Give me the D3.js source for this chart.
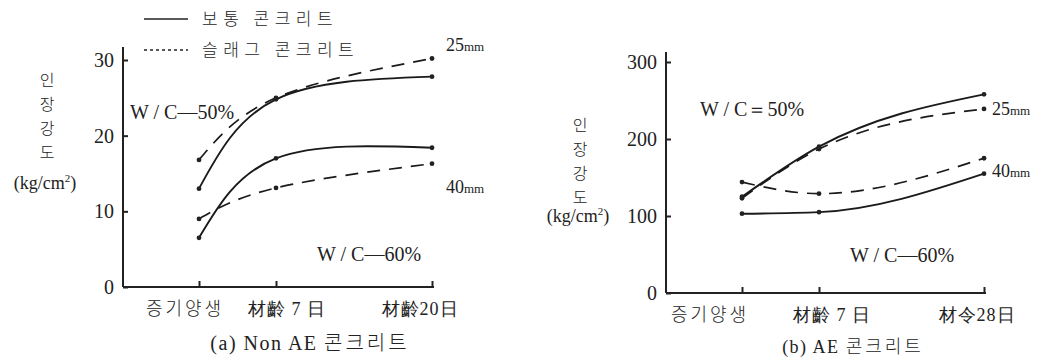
<!DOCTYPE html>
<html>
<head>
<meta charset="utf-8">
<script src="https://cdn.jsdelivr.net/npm/d3@7"></script>
<style>
  body { margin: 0; background: #fff; }
  svg { display: block; }
  .num { font-family: "Liberation Serif", "DejaVu Serif", serif; fill: #222; }
  .kor { font-family: "Noto Sans CJK KR", "Noto Sans", sans-serif; fill: #222; font-weight: 300; }
</style>
</head>
<body>
<div id="chart"></div>
<script>
// categories (curing age) and their day values
const catsA = ['증기양생', '材齡 7 日', '材齡20日'];
const catsB = ['증기양생', '材齡 7 日', '材令28日'];
const daysA = [0, 7, 20];
const daysB = [0, 7, 28];

// tick labels
const ticksA = [0, 10, 20, 30];
const ticksB = [0, 100, 200, 300];

// (a) Non AE concrete, kg/cm2
const a25Normal = [13.0, 24.8, 27.8];
const a25Slag   = [16.8, 25.0, 30.2];
const a40Normal = [6.5, 17.0, 18.4];
const a40Slag   = [9.0, 13.1, 16.3];

// (b) AE concrete, kg/cm2
const b25Normal = [125, 190, 258];
const b25Slag   = [123, 187, 239];
const b40Normal = [103, 105, 155];
const b40Slag   = [144, 129, 175];

const W = 1053, H = 362;
const svg = d3.select('#chart').append('svg')
  .attr('width', W)
  .attr('height', H);

// legend (top left)
const legend = [
  { label: '보통 콘크리트', dash: null, y: 19 },
  { label: '슬래그 콘크리트', dash: '3,3', y: 50 }
];
legend.forEach(l => {
  svg.append('line')
    .attr('x1', 144).attr('x2', 188)
    .attr('y1', l.y).attr('y2', l.y)
    .attr('stroke', '#222')
    .attr('stroke-width', 1.3)
    .attr('stroke-dasharray', l.dash);
  svg.append('text')
    .attr('class', 'kor')
    .attr('x', 202).attr('y', l.y + 6)
    .attr('font-size', 17)
    .attr('letter-spacing', 5.5)
    .text(l.label);
});

function drawPanel(opt) {
  const g = svg.append('g');
  const x = d3.scaleLinear()
    .domain([-7, 0, 7, opt.days[2], opt.days[2] + 1])
    .range([opt.left, opt.left + opt.gaps[0], opt.left + opt.gaps[0] + opt.gaps[1],
            opt.right - 2, opt.right]);
  const y = d3.scaleLinear()
    .domain([0, opt.ticks[opt.ticks.length - 1]])
    .range([opt.bottom, opt.top30]);

  // y axis
  const yAxis = d3.axisLeft(y).tickValues(opt.ticks).tickSizeInner(-5).tickSizeOuter(0).tickPadding(9);
  const ya = g.append('g')
    .attr('transform', `translate(${opt.left},0)`)
    .call(yAxis);
  ya.select('.domain').remove();
  ya.selectAll('.tick line').attr('stroke', '#222').attr('stroke-width', 2);
  ya.selectAll('.tick text')
    .attr('class', 'num')
    .attr('font-size', 20)
    .attr('font-family', null)
    .attr('fill', null);

  g.append('line')
    .attr('x1', opt.left).attr('x2', opt.left)
    .attr('y1', opt.axisTop).attr('y2', opt.bottom)
    .attr('stroke', '#222').attr('stroke-width', 2);

  // x axis
  const xAxis = d3.axisBottom(x).tickValues(opt.days).tickSizeInner(-6).tickSizeOuter(0).tickFormat('');
  const xa = g.append('g')
    .attr('transform', `translate(0,${opt.bottom})`)
    .call(xAxis);
  xa.select('.domain').remove();
  xa.selectAll('.tick line').attr('stroke', '#222').attr('stroke-width', 2);
  g.append('line')
    .attr('x1', opt.left).attr('x2', opt.right)
    .attr('y1', opt.bottom).attr('y2', opt.bottom)
    .attr('stroke', '#222').attr('stroke-width', 2);

  // category labels
  g.selectAll('.cat')
    .data(opt.cats)
    .enter().append('text')
    .attr('class', (d, i) => i === 0 ? 'kor' : 'num')
    .attr('x', (d, i) => x(opt.days[i]) + opt.catShift[i])
    .attr('y', opt.bottom + 28)
    .attr('text-anchor', 'middle')
    .attr('font-size', 18)
    .attr('letter-spacing', (d, i) => i === 0 ? 3 : 1)
    .text(d => d);

  // panel title
  g.append('text')
    .attr('class', 'num')
    .attr('x', opt.titleX).attr('y', opt.titleY)
    .attr('text-anchor', 'middle')
    .attr('font-size', opt.titleSize)
    .attr('letter-spacing', 1.5)
    .text(opt.title[0])
    .append('tspan').attr('class', 'kor').attr('letter-spacing', 3).text(opt.title[1]);

  // y axis label, vertical characters
  ['인', '장', '강', '도'].forEach((c, i) => {
    g.append('text')
      .attr('class', 'kor')
      .attr('x', opt.ylabX).attr('y', opt.ylabY + i * opt.ylabStep)
      .attr('text-anchor', 'middle')
      .attr('font-size', 16)
      .text(c);
  });
  const unit = g.append('text')
    .attr('class', 'num')
    .attr('x', opt.ylabX - 2).attr('y', opt.unitY)
    .attr('text-anchor', 'middle')
    .attr('font-size', 18)
    .text('(kg/cm');
  unit.append('tspan').attr('dy', -7).attr('font-size', 11).text('2');
  unit.append('tspan').attr('dy', 7).text(')');

  // series
  const line = d3.line()
    .x((d, i) => x(opt.days[i]))
    .y(d => y(d))
    .curve(opt.curve);

  opt.series.forEach(s => {
    g.append('path')
      .datum(s.values)
      .attr('d', line)
      .attr('fill', 'none')
      .attr('stroke', '#1a1a1a')
      .attr('stroke-width', s.slag ? 1.7 : 1.9)
      .attr('stroke-dasharray', s.slag ? '13,9' : null);
    g.selectAll(null)
      .data(s.values)
      .enter().append('circle')
      .attr('cx', (d, i) => x(opt.days[i]))
      .attr('cy', d => y(d))
      .attr('r', 2.4)
      .attr('fill', '#222');
  });

  // annotations
  opt.notes.forEach(n => {
    const t = g.append('text')
      .attr('class', 'num')
      .attr('x', n.x).attr('y', n.y)
      .attr('font-size', n.size)
      .attr('letter-spacing', n.ls || 0)
      .text(n.text);
    if (n.unit) t.append('tspan').attr('font-size', 13).text(n.unit);
  });
}

drawPanel({
  left: 123, right: 434, bottom: 287, top30: 60, axisTop: 47,
  gaps: [76, 77], days: daysA, ticks: ticksA, cats: catsA,
  catShift: [-14, 11, -12], curve: d3.curveNatural,
  title: ['(a)  Non  AE ', '콘크리트'], titleX: 310, titleY: 350, titleSize: 20,
  ylabX: 47, ylabY: 86, ylabStep: 24, unitY: 189,
  series: [
    { values: a25Normal, slag: false },
    { values: a25Slag, slag: true },
    { values: a40Normal, slag: false },
    { values: a40Slag, slag: true }
  ],
  notes: [
    { text: 'W / C—50%', x: 130, y: 119, size: 20 },
    { text: 'W / C—60%', x: 317, y: 261, size: 20 },
    { text: '25', unit: 'mm', x: 446, y: 51, size: 18 },
    { text: '40', unit: 'mm', x: 446, y: 193, size: 18 }
  ]
});

drawPanel({
  left: 666, right: 986, bottom: 293, top30: 62, axisTop: 52,
  gaps: [76, 77], days: daysB, ticks: ticksB, cats: catsB,
  catShift: [-32, 13, -7], curve: d3.curveMonotoneX,
  title: ['(b)  AE ', '콘크리트'], titleX: 853, titleY: 353, titleSize: 18,
  ylabX: 580, ylabY: 131, ylabStep: 24, unitY: 222,
  series: [
    { values: b25Normal, slag: false },
    { values: b25Slag, slag: true },
    { values: b40Normal, slag: false },
    { values: b40Slag, slag: true }
  ],
  notes: [
    { text: 'W / C＝50%', x: 700, y: 116, size: 20 },
    { text: 'W / C—60%', x: 850, y: 262, size: 20 },
    { text: '25', unit: 'mm', x: 992, y: 115, size: 18 },
    { text: '40', unit: 'mm', x: 992, y: 177, size: 18 }
  ]
});
</script>
</body>
</html>
